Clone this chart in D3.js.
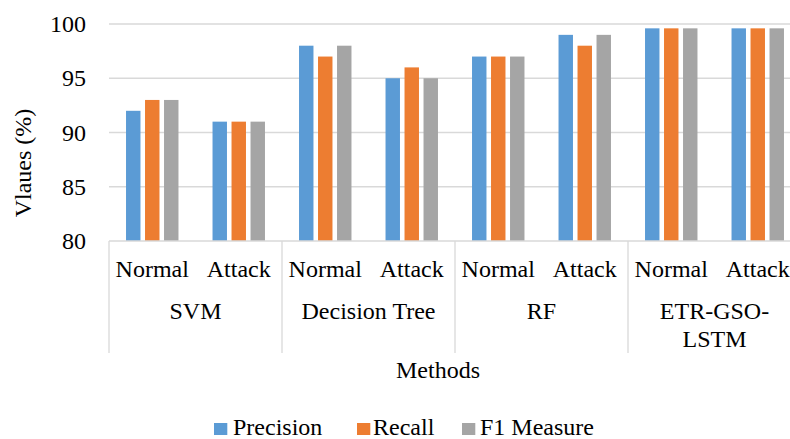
<!DOCTYPE html>
<html>
<head>
<meta charset="utf-8">
<script src="https://cdn.jsdelivr.net/npm/d3@7"></script>
</head>
<body style="margin:0">
<svg id="chart" width="790" height="439"></svg>
<script>
// Methods, conditions and metric series
const methods = ["SVM", "Decision Tree", "RF", "ETR-GSO-LSTM"];
const methodLines = [["SVM"], ["Decision Tree"], ["RF"], ["ETR-GSO-", "LSTM"]];
const conditions = ["Normal", "Attack"];
const seriesNames = ["Precision", "Recall", "F1 Measure"];
const seriesColors = ["#5b9bd5", "#ed7d31", "#a5a5a5"];

// values per method, in order Normal then Attack
const precision = [92, 91, 98, 95, 97, 99, 99.6, 99.6];
const recall    = [93, 91, 97, 96, 97, 98, 99.6, 99.6];
const f1Measure = [93, 91, 98, 95, 97, 99, 99.6, 99.6];
const yTicks = [80, 85, 90, 95, 100];

const seriesValues = [precision, recall, f1Measure];

const svg = d3.select("#chart");
const plotLeft = 109, plotRight = 801, plotTop = 24, plotBottom = 241;

const x0 = d3.scaleBand().domain(methods).range([plotLeft, plotRight]).padding(0);
const x1 = d3.scaleBand().domain(conditions).range([0, x0.bandwidth()]).padding(0);
const x2 = d3.scaleBand().domain(seriesNames).range([0, x1.bandwidth()])
  .paddingInner(0.24).paddingOuter(0.896);
const y = d3.scaleLinear().domain([80, 100]).range([plotBottom, plotTop]);

const fontSize = 24;
const serifFont = '"Liberation Serif", "DejaVu Serif", serif';

// text helper for the serif labels
function label(parent, x, yPos, str, anchor) {
  return parent.append("text")
    .attr("x", x).attr("y", yPos)
    .attr("text-anchor", anchor || "start")
    .style("font-family", serifFont)
    .attr("font-size", fontSize)
    .attr("fill", "#000")
    .text(str);
}

// gridlines
svg.append("g").selectAll("line").data(yTicks.filter(t => t > 80)).join("line")
  .attr("x1", plotLeft).attr("x2", plotRight)
  .attr("y1", d => y(d)).attr("y2", d => y(d))
  .attr("stroke", "#d9d9d9").attr("stroke-width", 1.3);

// y tick labels
const yLab = svg.append("g");
yTicks.forEach(t => label(yLab, 86, y(t) + 8, t, "end"));

// bars
const rows = [];
methods.forEach((m, mi) => {
  conditions.forEach((c, ci) => {
    seriesNames.forEach((s, si) => {
      rows.push({ m, c, s, si, v: seriesValues[si][mi * 2 + ci] });
    });
  });
});
svg.append("g").selectAll("rect").data(rows).join("rect")
  .attr("x", d => x0(d.m) + x1(d.c) + x2(d.s))
  .attr("width", x2.bandwidth())
  .attr("y", d => y(d.v))
  .attr("height", d => y(80) - y(d.v))
  .attr("fill", d => seriesColors[d.si]);

// category axis line and group dividers
svg.append("line").attr("x1", plotLeft).attr("x2", plotRight)
  .attr("y1", plotBottom).attr("y2", plotBottom)
  .attr("stroke", "#d9d9d9").attr("stroke-width", 1.3);
const dividers = methods.map(m => x0(m)).concat([plotRight]);
svg.append("g").selectAll("line").data(dividers).join("line")
  .attr("x1", d => d).attr("x2", d => d)
  .attr("y1", plotBottom).attr("y2", 353)
  .attr("stroke", "#d9d9d9").attr("stroke-width", 1.3);

// condition labels
const xLab = svg.append("g");
methods.forEach(m => conditions.forEach(c => {
  label(xLab, x0(m) + x1(c) + x1.bandwidth() / 2, 277, c, "middle");
}));

// method labels
methods.forEach((m, i) => {
  methodLines[i].forEach((line, li) => {
    label(xLab, x0(m) + x0.bandwidth() / 2, 319 + li * 28, line, "middle");
  });
});

// axis titles
label(svg, 438, 378, "Methods", "middle");
label(svg, 0, 0, "Vlaues (%)", "middle")
  .attr("transform", "translate(31,163) rotate(-90)");

// legend
const legendBox = [214, 357, 462];
const legendText = [233, 373, 480];
const legend = svg.append("g");
seriesNames.forEach((s, i) => {
  legend.append("rect").attr("x", legendBox[i]).attr("y", 423)
    .attr("width", 13.3).attr("height", 12)
    .attr("fill", seriesColors[i]);
  label(legend, legendText[i], 435, s, "start");
});
</script>
</body>
</html>
